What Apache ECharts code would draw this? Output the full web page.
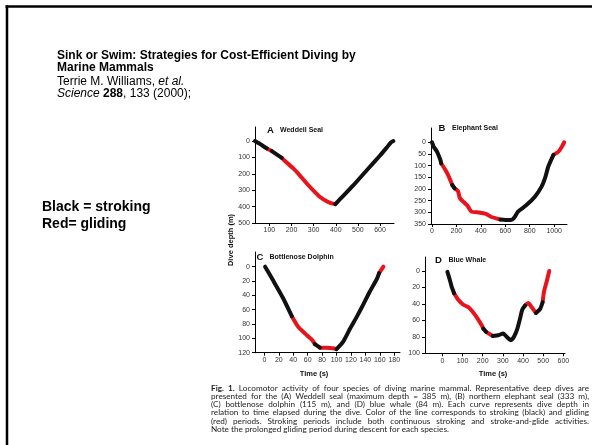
<!DOCTYPE html>
<html><head><meta charset="utf-8">
<script src="https://cdn.jsdelivr.net/npm/echarts@6/dist/echarts.min.js"></script>
<style>html,body{margin:0;padding:0;background:#fff}#c{width:592px;height:445px}</style>
</head><body><div id="c"></div>
<script>
// ---------- DATA ----------
// Phase codes: S = stroking (black), G = gliding (red); code applies to the segment starting at that point
const weddellTime  = [35, 65, 88, 111, 156, 178, 208, 239, 269, 299, 329, 359, 382, 398, 419, 480, 540, 600, 630, 648, 660];
const weddellDepth = [0, 24, 45, 61, 102, 131, 167, 212, 259, 302, 341, 367, 380, 385, 355, 269, 178, 88, 40, 10, 0];
const weddellPhase = ['S','S','G','S','G','G','G','G','G','G','G','G','G','S','S','S','S','S','S','S','S'];

const elephantTime  = [0, 14, 41, 69, 75, 110, 138, 166, 185, 193, 213, 229, 262, 290, 323, 386, 442, 483, 560, 600, 640, 662, 676, 704, 773, 842, 897, 925, 952, 994, 1035, 1063, 1082];
const elephantDepth = [0, 19, 40, 76, 90, 119, 147, 183, 197, 200, 209, 240, 257, 271, 297, 301, 307, 319, 331, 333, 333, 329, 321, 297, 269, 233, 190, 154, 104, 54, 40, 19, 0];
const elephantPhase = ['S','S','S','S','G','G','G','S','G','G','G','G','G','G','G','G','G','G','S','S','S','S','S','S','S','S','S','S','S','G','G','G','G'];

const dolphinTime  = [1, 12, 26, 38, 47, 56, 66, 70, 77, 86, 97, 100, 109, 119, 128, 137, 146, 156, 159, 165];
const dolphinDepth = [0, 19, 44, 69, 84, 93, 102, 108, 113, 113, 114, 115, 105, 86, 70, 53, 35, 17, 9, 0];
const dolphinPhase = ['S','S','S','G','G','G','G','S','G','G','G','S','S','S','S','S','S','S','G','G'];

const whaleTime  = [25, 35, 46, 58, 79, 104, 129, 145, 170, 195, 203, 217, 250, 278, 302, 319, 340, 355, 372, 385, 396, 410, 426, 443, 464, 485, 497, 504, 517, 530];
const whaleDepth = [1, 9, 19, 27, 35, 41, 44, 48, 56, 66, 70, 74, 79, 78, 76, 80, 84, 80, 70, 58, 47, 42, 39, 44, 51, 46, 38, 25, 13, 0];
const whalePhase = ['S','S','S','G','G','G','G','G','G','G','S','G','S','S','S','S','S','S','S','S','S','G','G','G','S','S','G','G','G','G'];

const weddellXTicks = [100, 200, 300, 400, 500, 600];
const weddellYTicks = [0, 100, 200, 300, 400, 500];
const elephantXTicks = [0, 200, 400, 600, 800, 1000];
const elephantYTicks = [0, 50, 100, 150, 200, 250, 300, 350];
const dolphinXTicks = [0, 20, 40, 60, 80, 100, 120, 140, 160, 180];
const dolphinYTicks = [0, 20, 40, 60, 80, 100, 120];
const whaleXTicks = [0, 100, 200, 300, 400, 500, 600];
const whaleYTicks = [0, 20, 40, 60, 80, 100];

const panelLetters = ['A', 'B', 'C', 'D'];
const panelNames = ['Weddell Seal', 'Elephant Seal', 'Bottlenose Dolphin', 'Blue Whale'];

const headerLines = ['Sink or Swim: Strategies for Cost-Efficient Diving by', 'Marine Mammals'];
const legendLines = ['Black = stroking', 'Red= gliding'];
const captionLines = [
  'Fig. 1. Locomotor activity of four species of diving marine mammal. Representative deep dives are',
  'presented for the (A) Weddell seal (maximum depth = 385 m), (B) northern elephant seal (333 m),',
  '(C) bottlenose dolphin (115 m), and (D) blue whale (84 m). Each curve represents dive depth in',
  'relation to time elapsed during the dive. Color of the line corresponds to stroking (black) and gliding',
  '(red) periods. Stroking periods include both continuous stroking and stroke-and-glide activities.',
  'Note the prolonged gliding period during descent for each species.'
];

// ---------- CHART ----------
const BLACK = '#111111', RED = '#e8141c';
const chart = echarts.init(document.getElementById('c'), null, {renderer: 'canvas'});

function segs(time, depth, phase, idx) {
  const out = [];
  let start = 0;
  for (let i = 1; i < time.length; i++) {
    if (i === time.length - 1 || phase[i] !== phase[start]) {
      const pts = [];
      for (let k = start; k <= i; k++) pts.push([time[k], depth[k]]);
      out.push({
        type: 'line', xAxisIndex: idx, yAxisIndex: idx, data: pts,
        symbol: 'none', showSymbol: false, smooth: 0.2, animation: false, silent: true,
        lineStyle: {color: phase[start] === 'S' ? BLACK : RED, width: 4, cap: 'round', join: 'round'},
        z: phase[start] === 'S' ? 3 : 2
      });
      start = i;
    }
  }
  return out;
}

const grids = [
  {left: 255, top: 127, width: 139, height: 96},
  {left: 431, top: 128, width: 136, height: 96},
  {left: 255, top: 252, width: 145, height: 100.7},
  {left: 425, top: 257, width: 140, height: 96.3}
];
const xr = [[35, 663], [-8, 1105], [-13, 188], [-86, 608]];
const yr = [[-86, 500], [-61, 350], [-20.5, 120], [-17, 100]];
const xt = [weddellXTicks, elephantXTicks, dolphinXTicks, whaleXTicks];
const yt = [weddellYTicks, elephantYTicks, dolphinYTicks, whaleYTicks];

const lab = {fontSize: 7, color: '#333', fontFamily: 'Liberation Sans, Arial, sans-serif', formatter: v => String(v)};

const xAxes = [], yAxes = [];
for (let i = 0; i < 4; i++) {
  xAxes.push({
    type: 'value', gridIndex: i, min: xr[i][0], max: xr[i][1], position: 'bottom',
    axisLine: {onZero: false, lineStyle: {color: '#000', width: 1}},
    axisTick: {show: true, customValues: xt[i], length: 3, lineStyle: {color: '#000', width: 1}},
    axisLabel: Object.assign({customValues: xt[i], margin: 4}, lab),
    splitLine: {show: false}
  });
  yAxes.push({
    type: 'value', gridIndex: i, min: yr[i][0], max: yr[i][1], inverse: true, position: 'left',
    axisLine: {onZero: false, lineStyle: {color: '#000', width: 1}},
    axisTick: {show: true, customValues: yt[i], length: 3, lineStyle: {color: '#000', width: 1}},
    axisLabel: Object.assign({customValues: yt[i], margin: 5}, lab),
    splitLine: {show: false}
  });
}

const series = [].concat(
  segs(weddellTime, weddellDepth, weddellPhase, 0),
  segs(elephantTime, elephantDepth, elephantPhase, 1),
  segs(dolphinTime, dolphinDepth, dolphinPhase, 2),
  segs(whaleTime, whaleDepth, whalePhase, 3)
);

// ---------- TEXT / GRAPHICS ----------
const SANS = 'Liberation Sans, Arial, Helvetica, sans-serif';
const graphic = [];
// frame
graphic.push({type: 'line', shape: {x1: 5.5, y1: 6.5, x2: 592, y2: 6.5}, style: {stroke: '#000', lineWidth: 2.5}, silent: true});
graphic.push({type: 'line', shape: {x1: 7, y1: 5.5, x2: 7, y2: 445}, style: {stroke: '#000', lineWidth: 2.5}, silent: true});

// header
graphic.push({type: 'text', x: 57, y: 55.5, style: {text: headerLines[0], font: 'bold 12px ' + SANS, fill: '#000', verticalAlign: 'middle'}});
graphic.push({type: 'text', x: 57, y: 68, style: {text: headerLines[1], font: 'bold 12px ' + SANS, fill: '#000', verticalAlign: 'middle'}});
graphic.push({type: 'text', x: 57, y: 81.5, style: {
  text: '{n|Terrie M. Williams, }{i|et al.}', verticalAlign: 'middle',
  rich: {n: {font: '12px ' + SANS, fill: '#000'}, i: {font: 'italic 12px ' + SANS, fill: '#000'}}}});
graphic.push({type: 'text', x: 57, y: 94, style: {
  text: '{i|Science }{b|288}{n|, 133 (2000);}', verticalAlign: 'middle',
  rich: {n: {font: '12px ' + SANS, fill: '#000'}, i: {font: 'italic 12px ' + SANS, fill: '#000'}, b: {font: 'bold 12px ' + SANS, fill: '#000'}}}});

// legend text
graphic.push({type: 'text', x: 42, y: 207.5, style: {text: legendLines[0], font: 'bold 14px ' + SANS, fill: '#000', verticalAlign: 'middle'}});
graphic.push({type: 'text', x: 42, y: 224, style: {text: legendLines[1], font: 'bold 14px ' + SANS, fill: '#000', verticalAlign: 'middle'}});

// panel titles
const titlePos = [[267, 130.5, 280], [438.5, 128, 452], [256.5, 257.5, 269.5], [435, 260.5, 448.5]];
for (let i = 0; i < 4; i++) {
  graphic.push({type: 'text', x: titlePos[i][0], y: titlePos[i][1], style: {text: panelLetters[i], font: 'bold 9.5px ' + SANS, fill: '#111', verticalAlign: 'middle'}});
  graphic.push({type: 'text', x: titlePos[i][2], y: titlePos[i][1], style: {text: panelNames[i], font: 'bold 7px ' + SANS, fill: '#111', verticalAlign: 'middle'}});
}
// axis names
graphic.push({type: 'text', x: 231, y: 240, rotation: Math.PI / 2, style: {text: 'Dive depth (m)', font: 'bold 7.5px ' + SANS, fill: '#111', align: 'center', verticalAlign: 'middle'}});
graphic.push({type: 'text', x: 314, y: 374, style: {text: 'Time (s)', font: 'bold 7.5px ' + SANS, fill: '#111', align: 'center', verticalAlign: 'middle'}});
graphic.push({type: 'text', x: 493, y: 374, style: {text: 'Time (s)', font: 'bold 7.5px ' + SANS, fill: '#111', align: 'center', verticalAlign: 'middle'}});

// caption (justified)
const CAP_FONT = '8.2px Lato, sans-serif';
const CAP_BOLD = 'bold 8.2px Lato, sans-serif';
const ctx = document.createElement('canvas').getContext('2d');
function mw(t, f) { ctx.font = f; return ctx.measureText(t).width; }
const capLeft = 211, capRight = 589, capTop = 388.5, capStep = 8.1;
captionLines.forEach((line, li) => {
  const words = line.split(' ');
  const fonts = words.map((w, wi) => (li === 0 && wi < 2) ? CAP_BOLD : CAP_FONT);
  const widths = words.map((w, wi) => mw(w, fonts[wi]));
  const sum = widths.reduce((a, b) => a + b, 0);
  const last = li === captionLines.length - 1;
  const gap = last ? mw(' ', CAP_FONT) : Math.max(1.2, (capRight - capLeft - sum) / (words.length - 1));
  let x = capLeft;
  words.forEach((w, wi) => {
    graphic.push({type: 'text', x: x, y: capTop + li * capStep, silent: true,
      style: {text: w, font: fonts[wi], fill: '#222', verticalAlign: 'middle'}});
    x += widths[wi] + gap;
  });
});

chart.setOption({
  animation: false,
  backgroundColor: '#fff',
  grid: grids.map(g => Object.assign({containLabel: false, outerBoundsMode: 'none'}, g)),
  xAxis: xAxes,
  yAxis: yAxes,
  series: series,
  graphic: graphic
});
</script>
</body></html>
